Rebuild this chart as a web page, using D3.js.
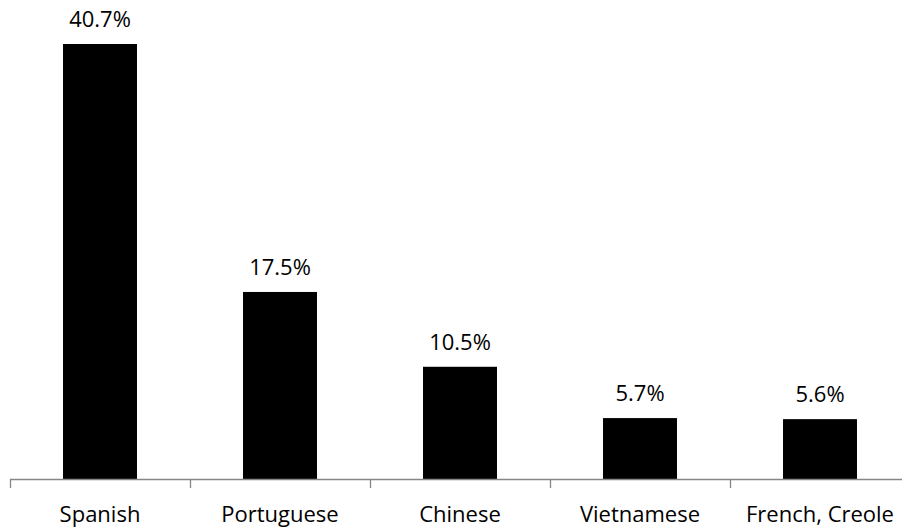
<!DOCTYPE html>
<html>
<head>
<meta charset="utf-8">
<script src="https://cdn.jsdelivr.net/npm/d3@7"></script>
<style>
  html, body { margin: 0; padding: 0; background: #fff; }
  svg { display: block; }
  text { font-family: "Open Sans", sans-serif; fill: #000; }
</style>
</head>
<body>
<svg id="chart" width="902" height="529"></svg>
<script>
const categories = ["Spanish", "Portuguese", "Chinese", "Vietnamese", "French, Creole"];
const values = [40.7, 17.5, 10.5, 5.7, 5.6];
const valueLabels = ["40.7%", "17.5%", "10.5%", "5.7%", "5.6%"];

const svg = d3.select("#chart");
const baseY = 479;

const x = d3.scaleBand().domain(categories).range([10, 910]).paddingInner(0.589).paddingOuter(0.2945);
const y = d3.scaleLinear().domain([0, 40.7]).range([baseY, 44]);

// bars
svg.selectAll("rect.bar").data(categories).join("rect")
  .attr("class", "bar")
  .attr("x", d => x(d))
  .attr("width", x.bandwidth())
  .attr("y", (d, i) => y(values[i]))
  .attr("height", (d, i) => baseY - y(values[i]))
  .attr("fill", "#000");

// axis
const axisG = svg.append("g").attr("transform", `translate(0,${baseY})`);
axisG.append("line").attr("x1", 10).attr("x2", 910).attr("y1", 0.5).attr("y2", 0.5)
  .attr("stroke", "#868686").attr("stroke-width", 1.3);
const step = x.step();
const tickXs = d3.range(categories.length + 1).map(i => 10 + i * step);
axisG.selectAll("line.tick").data(tickXs).join("line")
  .attr("class", "tick")
  .attr("x1", d => Math.round(d) + 0.5).attr("x2", d => Math.round(d) + 0.5)
  .attr("y1", 0).attr("y2", 9)
  .attr("stroke", "#868686").attr("stroke-width", 1.3);

// category labels
svg.selectAll("text.cat").data(categories).join("text")
  .attr("class", "cat")
  .attr("x", d => x(d) + x.bandwidth() / 2)
  .attr("y", 522)
  .attr("text-anchor", "middle")
  .attr("font-size", 22)
  .text(d => d);

// value labels
svg.selectAll("text.val").data(categories).join("text")
  .attr("class", "val")
  .attr("x", d => x(d) + x.bandwidth() / 2)
  .attr("y", (d, i) => y(values[i]) - 17)
  .attr("text-anchor", "middle")
  .attr("font-size", 22)
  .text((d, i) => valueLabels[i]);
</script>
</body>
</html>
